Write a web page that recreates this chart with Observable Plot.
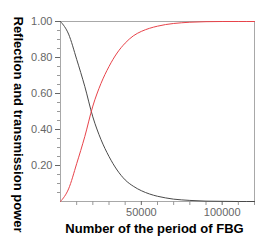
<!DOCTYPE html>
<html>
<head>
<meta charset="utf-8">
<script src="https://cdn.jsdelivr.net/npm/d3@7"></script>
<script src="https://cdn.jsdelivr.net/npm/@observablehq/plot@0.6"></script>
<style>
  html, body { margin: 0; padding: 0; background: #fff; }
  svg { display: block; }
</style>
</head>
<body>
<div id="chart"></div>
<script>
const periods = [0, 5000, 10000, 15000, 20000, 25000, 30000, 35000, 40000, 45000, 50000, 55000, 60000, 65000, 70000, 75000, 80000, 90000, 100000, 110000, 120000];
const transmission = [1.0, 0.93, 0.79, 0.64, 0.47, 0.345, 0.25, 0.175, 0.12, 0.085, 0.06, 0.042, 0.029, 0.02, 0.013, 0.009, 0.006, 0.002, 0.001, 0.0, 0.0];
const reflection = [0.0, 0.07, 0.21, 0.36, 0.53, 0.655, 0.75, 0.825, 0.88, 0.92, 0.945, 0.962, 0.974, 0.983, 0.989, 0.993, 0.996, 0.999, 1.0, 1.0, 1.0];
const yTicks = [0.2, 0.4, 0.6, 0.8, 1.0];
const yMinorTicks = [0.05, 0.1, 0.15, 0.25, 0.3, 0.35, 0.45, 0.5, 0.55, 0.65, 0.7, 0.75, 0.85, 0.9, 0.95];
const xTicks = [50000, 100000];
const xMinorTicks = [10000, 20000, 30000, 40000, 60000, 70000, 80000, 90000, 110000, 120000];
const xTitle = "Number of the period of FBG";
const yTitle = "Reflection and transmission power";

const rows = periods.flatMap((p, i) => [
  {period: p, value: transmission[i], series: "transmission"},
  {period: p, value: reflection[i], series: "reflection"}
]);

const chart = Plot.plot({
  width: 280,
  height: 248,
  marginLeft: 60,
  marginRight: 26,
  marginTop: 21,
  marginBottom: 47,
  style: {fontFamily: "Liberation Sans, Arial, sans-serif", background: "#fff"},
  x: {domain: [0, 120000]},
  y: {domain: [0, 1]},
  color: {domain: ["transmission", "reflection"], range: ["#4a4a4a", "#e8434a"]},
  marks: [
    Plot.frame({stroke: "#a8a8a8"}),
    Plot.axisY({ticks: yMinorTicks, tickSize: 3, tickFormat: () => "", label: null, stroke: "#999"}),
    Plot.axisY({ticks: yTicks, tickSize: 5, tickPadding: 3, tickFormat: d3.format(".2f"), label: null, fontSize: 11, color: "#666"}),
    Plot.axisX({ticks: xMinorTicks, tickSize: 4, tickFormat: () => "", label: null, stroke: "#999"}),
    Plot.axisX({ticks: xTicks, tickSize: 4, tickPadding: 3, tickFormat: d3.format("d"), label: null, fontSize: 11, color: "#666"}),
    Plot.line(rows, {x: "period", y: "value", z: "series", stroke: "series", strokeWidth: 1, curve: "monotone-x"}),
    Plot.text([xTitle], {frameAnchor: "bottom", dx: -3, dy: 27, text: d => d, fontSize: 13, fontWeight: "bold", fill: "#000", lineAnchor: "middle", textAnchor: "middle"}),
    Plot.text([yTitle], {frameAnchor: "left", dx: -42, dy: 13, rotate: 90, text: d => d, fontSize: 13, fontWeight: "bold", fill: "#000", lineAnchor: "middle", textAnchor: "middle"})
  ]
});
document.getElementById("chart").appendChild(chart);
</script>
</body>
</html>
